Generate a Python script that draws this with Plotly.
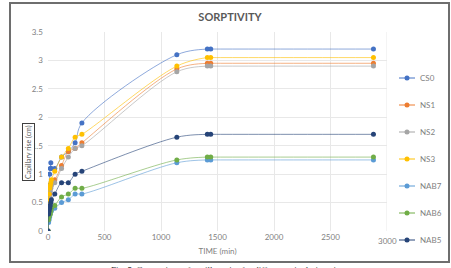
import plotly.graph_objects as go

time_min = [0, 5, 10, 15, 20, 25, 30, 60, 120, 180, 240, 300, 1140, 1410, 1440, 2880]

series_names = ["CS0", "NS1", "NS2", "NS3", "NAB7", "NAB6", "NAB5"]
cs0 = [0, 0.5, 0.8, 1.0, 1.1, 1.2, 1.1, 1.1, 1.3, 1.4, 1.55, 1.9, 3.1, 3.2, 3.2, 3.2]
ns1 = [0, 0.4, 0.55, 0.65, 0.75, 0.8, 0.85, 0.9, 1.15, 1.4, 1.45, 1.55, 2.85, 2.95, 2.95, 2.95]
ns2 = [0, 0.35, 0.5, 0.6, 0.7, 0.75, 0.8, 0.85, 1.1, 1.3, 1.45, 1.5, 2.8, 2.9, 2.9, 2.9]
ns3 = [0, 0.55, 0.65, 0.75, 0.8, 0.85, 0.9, 1.05, 1.3, 1.45, 1.65, 1.7, 2.9, 3.05, 3.05, 3.05]
nab7 = [0, 0.15, 0.2, 0.25, 0.3, 0.35, 0.35, 0.4, 0.5, 0.55, 0.65, 0.65, 1.2, 1.25, 1.25, 1.25]
nab6 = [0, 0.2, 0.25, 0.3, 0.3, 0.35, 0.4, 0.45, 0.6, 0.65, 0.75, 0.75, 1.25, 1.3, 1.3, 1.3]
nab5 = [0, 0.3, 0.35, 0.4, 0.45, 0.5, 0.55, 0.65, 0.85, 0.85, 1.0, 1.05, 1.65, 1.7, 1.7, 1.7]
series_values = [cs0, ns1, ns2, ns3, nab7, nab6, nab5]

x_ticks = [0, 500, 1000, 1500, 2000, 2500, 3000]
y_ticks = [0, 0.5, 1, 1.5, 2, 2.5, 3, 3.5]

colors = ["#4472C4", "#ED7D31", "#A5A5A5", "#FFC000", "#5B9BD5", "#70AD47", "#264478"]

def rgba(hexc, a):
    h = hexc.lstrip("#")
    return "rgba(%d,%d,%d,%.2f)" % (int(h[0:2], 16), int(h[2:4], 16), int(h[4:6], 16), a)

fig = go.Figure()
for name, vals, c in zip(series_names, series_values, colors):
    fig.add_trace(go.Scatter(
        x=time_min, y=vals, name=name, mode="lines+markers",
        line=dict(color=rgba(c, 0.6), width=1, shape="spline"),
        marker=dict(color=c, size=5),
        showlegend=False,
    ))

L, R, T, B = 48, 64, 32, 37
W, H = 451, 268
pw, ph = W - L - R, H - T - B

def px(xp):
    return (xp - L) / pw

def py(yp):
    return (H - B - yp) / ph

fig.update_layout(
    width=W, height=H,
    margin=dict(l=L, r=R, t=T, b=B),
    paper_bgcolor="white", plot_bgcolor="white",
    font=dict(family="Lato", size=8, color="#7f7f7f"),
    title=dict(text="<b>SORPTIVITY</b>", xref="paper", x=px(230), xanchor="center",
               yref="container", y=1 - 17 / H, yanchor="middle",
               font=dict(family="Lato", size=11, color="#595959")),
    showlegend=False,
    xaxis=dict(range=[0, 3000], tickmode="array", tickvals=x_ticks[:-1],
               ticktext=[str(v) for v in x_ticks[:-1]],
               showgrid=True, gridcolor="#e8e8e8",
               zeroline=False, showline=False, ticks="",
               title=dict(text="TIME (min)", font=dict(size=8, color="#7f7f7f"), standoff=7)),
    yaxis=dict(range=[0, 3.5], tickmode="array", tickvals=y_ticks,
               ticktext=[("%g" % v) + "  " for v in y_ticks],
               showgrid=True, gridcolor="#e8e8e8",
               zeroline=False, showline=False, ticks=""),
)

# last x tick label and its grid line (at the plot edge)
fig.add_shape(type="line", xref="x", yref="paper", x0=x_ticks[-1], x1=x_ticks[-1], y0=0, y1=1,
              line=dict(color="#e8e8e8", width=1), layer="below")
fig.add_annotation(text=str(x_ticks[-1]), xref="x", yref="paper", x=x_ticks[-1], y=0,
                   yshift=-3, xanchor="center", yanchor="top", showarrow=False,
                   font=dict(family="Lato", size=8, color="#7f7f7f"))

# Legend drawn at the right, one entry per series
for i, (name, c) in enumerate(zip(series_names, colors)):
    yp = 78 + i * 27
    fig.add_shape(type="line", xref="paper", yref="paper",
                  x0=px(399), x1=px(415), y0=py(yp), y1=py(yp),
                  line=dict(color=c, width=1))
    fig.add_shape(type="circle", xref="paper", yref="paper",
                  x0=px(404.5), x1=px(409.5), y0=py(yp + 2.5), y1=py(yp - 2.5),
                  line=dict(color=c, width=0), fillcolor=c)
    fig.add_annotation(text=name, xref="paper", yref="paper", x=px(418), y=py(yp),
                       xanchor="left", yanchor="middle", showarrow=False,
                       font=dict(family="Lato", size=8, color="#7f7f7f"))

fig.add_annotation(text="Capillary rise (cm)", textangle=-90, xref="paper", yref="paper",
                   x=px(28), y=py(152), xanchor="center", yanchor="middle", showarrow=False,
                   font=dict(family="Lato", size=7, color="#595959"),
                   bordercolor="#404040", borderwidth=1, borderpad=1, bgcolor="white")

fig.add_annotation(text="Fig. 5. Comparison of capillary rise for different mix designations",
                   xref="paper", yref="paper", x=px(230), y=py(263), xanchor="center", yanchor="top",
                   showarrow=False, font=dict(family="Liberation Serif", size=9, color="#333333"))

fig.add_shape(type="rect", xref="paper", yref="paper",
              x0=px(10), x1=px(449), y0=py(262), y1=py(3),
              line=dict(color="#6e6e6e", width=2), fillcolor="rgba(0,0,0,0)", layer="below")

fig.write_html("out.html")
